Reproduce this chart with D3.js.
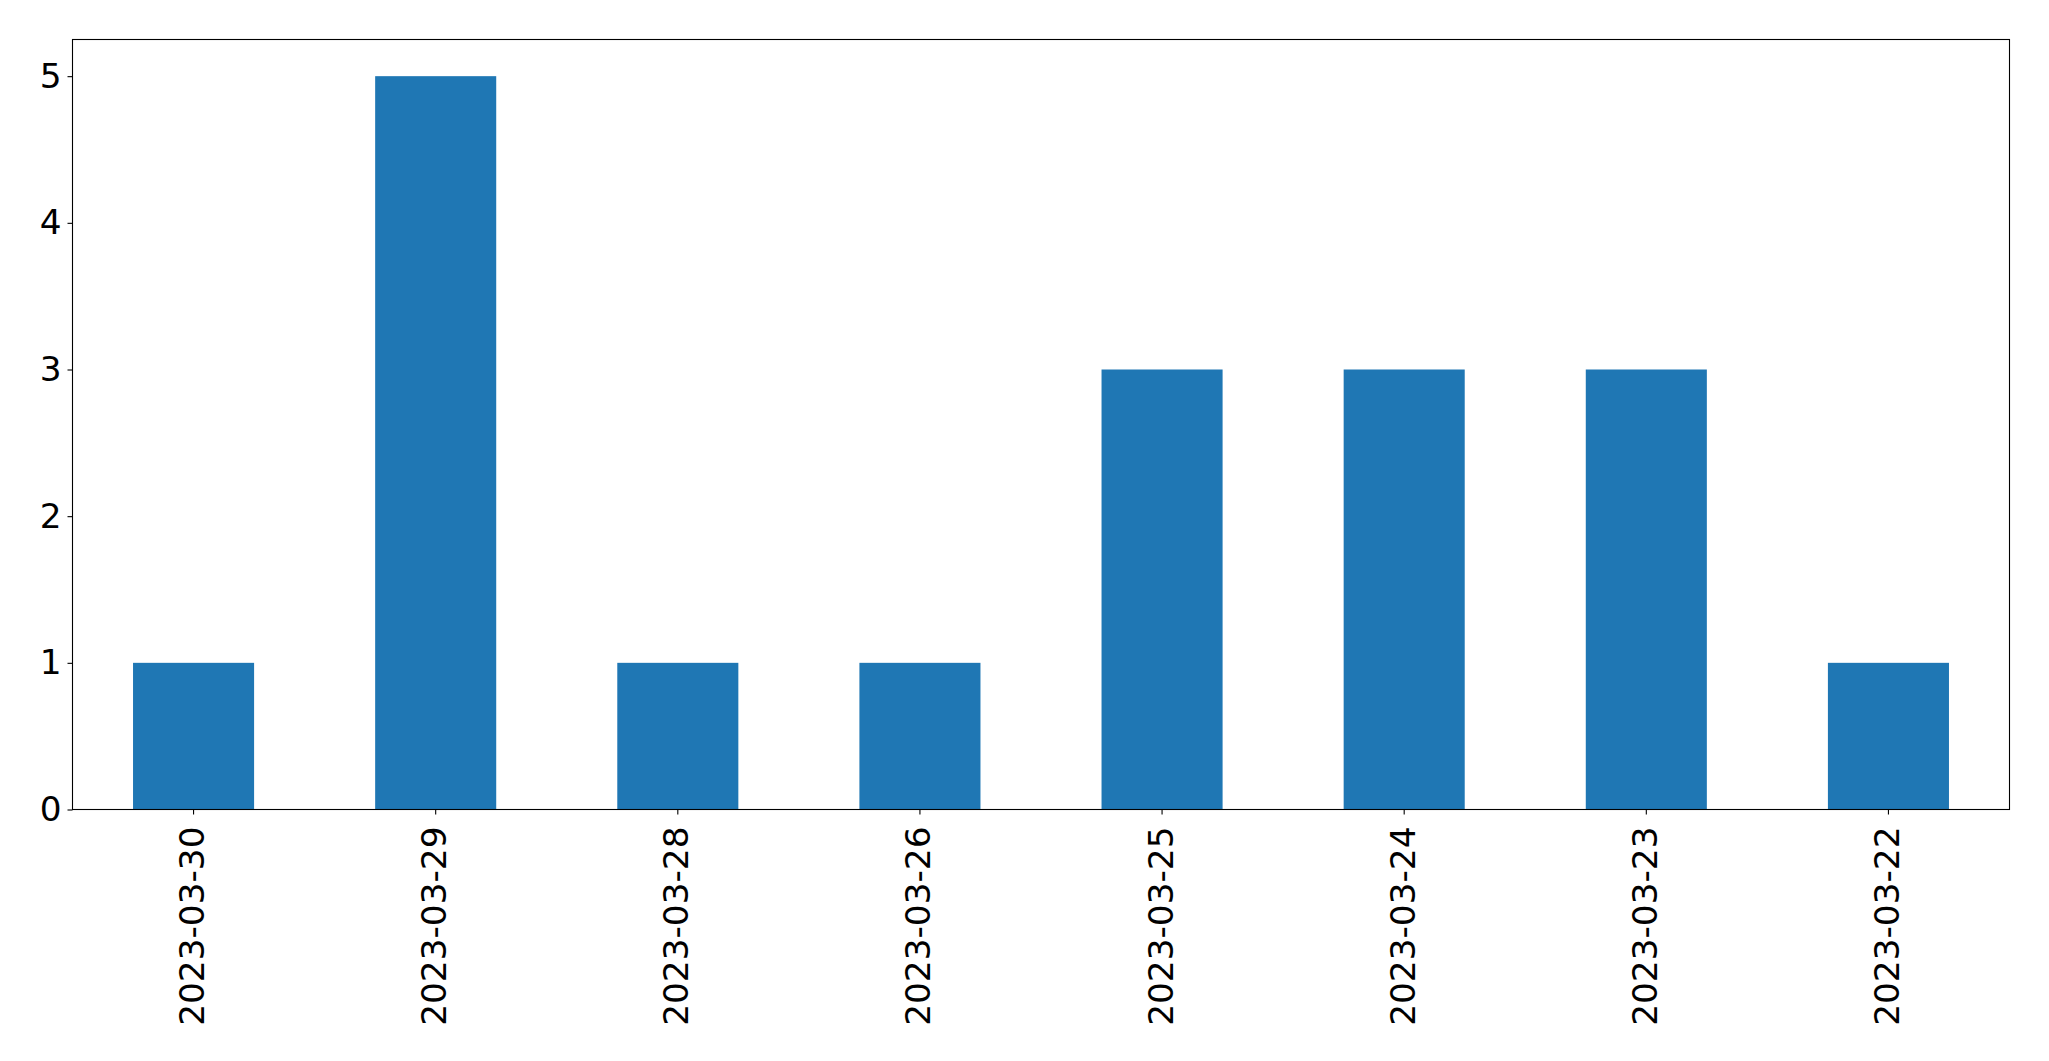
<!DOCTYPE html>
<html>
<head>
<meta charset="utf-8">
<script src="https://cdn.jsdelivr.net/npm/d3@7"></script>
<style>
  html, body { margin: 0; padding: 0; background: #fff; }
  svg { display: block; }
</style>
</head>
<body>
<script>
const categories = ["2023-03-30", "2023-03-29", "2023-03-28", "2023-03-26", "2023-03-25", "2023-03-24", "2023-03-23", "2023-03-22"];
const values = [1, 5, 1, 1, 3, 3, 3, 1];
const yTicks = [0, 1, 2, 3, 4, 5];

const W = 2049, H = 1061;
const margin = { left: 72.5, right: 2049 - 2009.5, top: 39.5, bottom: 1061 - 809.5 };

const svg = d3.select("body").append("svg").attr("width", W).attr("height", H);

const x = d3.scaleBand().domain(categories)
  .range([margin.left, W - margin.right]).paddingInner(0.5).paddingOuter(0.25);
const y = d3.scaleLinear().domain([0, 5.25]).range([H - margin.bottom, margin.top]);

svg.append("g").selectAll("rect").data(values).join("rect")
  .attr("x", (d, i) => x(categories[i]))
  .attr("width", x.bandwidth())
  .attr("y", d => y(d))
  .attr("height", d => y(0) - y(d))
  .attr("fill", "#1f77b4");

const font = "DejaVu Sans, sans-serif";
const fs = "34.3px";

const yAxis = svg.append("g").attr("transform", `translate(${margin.left},0)`)
  .call(d3.axisLeft(y).tickValues(yTicks).tickFormat(d3.format("d")).tickSize(5).tickPadding(6));
yAxis.select(".domain").remove();
yAxis.selectAll("text").style("font-family", font).style("font-size", fs).attr("fill", "#000");
yAxis.selectAll("line").attr("stroke", "#000").attr("stroke-width", 1.1);

const xAxis = svg.append("g").attr("transform", `translate(0,${H - margin.bottom})`)
  .call(d3.axisBottom(x).tickSize(5).tickPadding(0));
xAxis.select(".domain").remove();
xAxis.selectAll("line").attr("stroke", "#000").attr("stroke-width", 1.1);
xAxis.selectAll("text")
  .style("font-family", font).style("font-size", fs).attr("fill", "#000")
  .attr("text-anchor", "end")
  .attr("dy", null)
  .attr("transform", "translate(0,17) rotate(-90)")
  .attr("x", 0).attr("y", 10.5);

svg.append("rect")
  .attr("x", margin.left).attr("y", margin.top)
  .attr("width", W - margin.right - margin.left)
  .attr("height", H - margin.bottom - margin.top)
  .attr("fill", "none").attr("stroke", "#000").attr("stroke-width", 1.1);
</script>
</body>
</html>
